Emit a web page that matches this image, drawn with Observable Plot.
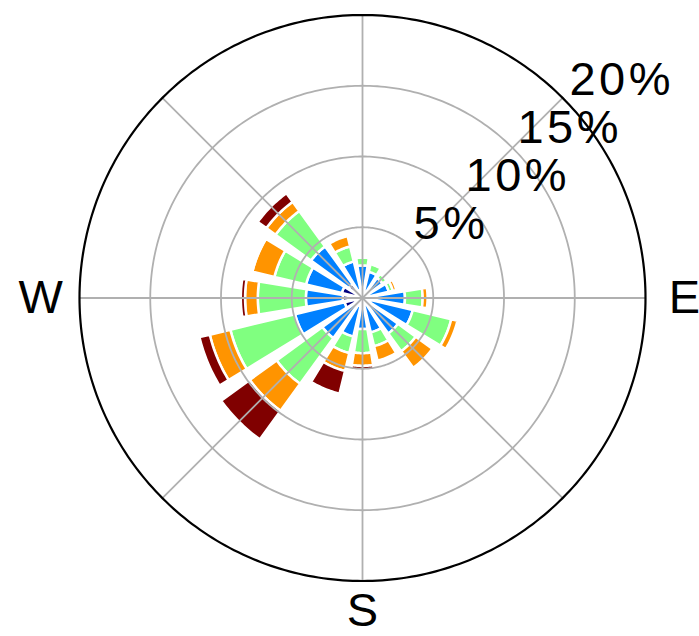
<!DOCTYPE html>
<html><head><meta charset="utf-8">
<script src="https://cdn.jsdelivr.net/npm/d3@7"></script>
<script src="https://cdn.jsdelivr.net/npm/@observablehq/plot@0.6"></script>
<style>html,body{margin:0;padding:0;background:#fff}</style>
</head><body><div id="chart"></div>
<script>
// 16 compass sectors, clockwise from north
const directions = ["N","NNE","NE","ENE","E","ESE","SE","SSE","S","SSW","SW","WSW","W","WNW","NW","NNW"];
const directionAngles = [0,22.5,45,67.5,90,112.5,135,157.5,180,202.5,225,247.5,270,292.5,315,337.5];
// speed bins (lowest to highest) and their colours
const bins = ["bin1","bin2","bin3","bin4","bin5"];
const binColors = ["#000080","#0080ff","#80ff80","#ff9400","#800000"];
// frequency (%) of each bin per direction
const bin1 = [0.5,0.3,0.3,0.3,0.5,0.6,0.5,0.5,0.5,0.6,0.7,1.3,1.4,1.5,1.2,0.6];
const bin2 = [1.8,1.6,1.45,1.6,2.5,3.05,2.6,2.0,1.7,2.2,2.8,3.6,2.6,2.6,3.3,2.05];
const bin3 = [0.55,0.55,0.35,0.3,1.25,2.8,1.55,1.0,1.7,1.2,4.0,4.7,3.4,2.3,3.1,1.1];
const bin4 = [0,0,0,0.25,0.35,0.45,1.45,1.05,0.9,1.3,2.35,1.5,0.9,1.6,0.8,0.75];
const bin5 = [0,0,0,0,0,0,0,0,0.3,1.65,2.5,0.75,0.3,0.15,0.75,0];
// radial grid
const ringValues = [5,10,15];
const outerValue = 20;
const ringLabels = ["5%","10%","15%","20%"];
const ringLabelValues = [5,10,15,20];
const spokeAngles = [0,45,90,135,180,225,270,315];
const sideLabels = ["E","W"];
const sideAngles = [90,270];
const bottomLabels = ["S"];
const bottomAngles = [180];

const rad = Math.PI / 180;
const px = (r, a) => r * Math.sin(a * rad);
const py = (r, a) => r * Math.cos(a * rad);
const opening = 0.8 * 22.5; // bar angular width
const series = [bin1, bin2, bin3, bin4, bin5];

// build wedge polygons from the data
const wedges = [];
directions.forEach((dir, i) => {
  const a = directionAngles[i];
  let base = 0;
  series.forEach((s, j) => {
    const v = s[i];
    if (v <= 0) return;
    const r0 = base, r1 = base + v;
    base = r1;
    const id = dir + "-" + j;
    const n = 16;
    for (let k = 0; k <= n; k++) {
      const t = a - opening / 2 + opening * k / n;
      wedges.push({id, bin: bins[j], x: px(r0, t), y: py(r0, t)});
    }
    for (let k = n; k >= 0; k--) {
      const t = a - opening / 2 + opening * k / n;
      wedges.push({id, bin: bins[j], x: px(r1, t), y: py(r1, t)});
    }
  });
});

function circle(v) {
  const pts = [];
  for (let k = 0; k < 360; k += 1) pts.push({v, x: px(v, k), y: py(v, k)});
  return pts;
}
const rings = ringValues.flatMap(circle);
const outer = circle(outerValue);
const spokes = spokeAngles.map(a => ({x1: 0, y1: 0, x2: px(outerValue, a), y2: py(outerValue, a)}));
const labelAngle = 47.3;
const rlabels = ringLabels.map((t, i) => ({t, x: px(ringLabelValues[i], labelAngle), y: py(ringLabelValues[i], labelAngle)}));
const slabels = sideLabels.map((t, i) => ({t, x: px(22.75, sideAngles[i]), y: py(22.75, sideAngles[i])}));
const blabels = bottomLabels.map((t, i) => ({t, x: px(22.15, bottomAngles[i]), y: py(22.15, bottomAngles[i])}));

const W = 699, H = 636, cx = 362, cy = 297.5, k = 283 / 20;
const font = "'Liberation Sans', Arial, Helvetica, sans-serif";

const chart = Plot.plot({
  width: W, height: H, margin: 0,
  style: {fontFamily: font, background: "#fff"},
  x: {domain: [-cx / k, (W - cx) / k], axis: null},
  y: {domain: [-(H - cy) / k, cy / k], axis: null},
  color: {domain: bins, range: binColors},
  marks: [
    Plot.line(wedges, {x: "x", y: "y", z: "id", fill: "bin", stroke: "white", strokeWidth: 2.5, curve: "linear-closed"}),
    Plot.line(rings, {x: "x", y: "y", z: "v", stroke: "#b0b0b0", strokeWidth: 1.8, curve: "linear-closed"}),
    Plot.link(spokes, {x1: "x1", y1: "y1", x2: "x2", y2: "y2", stroke: "#b0b0b0", strokeWidth: 1.8}),
    Plot.line(outer, {x: "x", y: "y", stroke: "black", strokeWidth: 2.2, curve: "linear-closed"}),
    Plot.text(rlabels, {x: "x", y: "y", text: "t", textAnchor: "start", lineAnchor: "bottom", dx: -1, dy: -11.5, fontSize: 47, fill: "black"}),
    Plot.text(slabels, {x: "x", y: "y", text: "t", textAnchor: "middle", lineAnchor: "middle", fontSize: 47, fill: "black"}),
    Plot.text(blabels, {x: "x", y: "y", text: "t", textAnchor: "middle", lineAnchor: "middle", fontSize: 47, fill: "black"})
  ]
});
// matplotlib-like wider tracking on the radial labels
d3.select(chart).selectAll("g[aria-label='text']").filter((d, i) => i === 0).style("letter-spacing", "3.5px");
document.getElementById("chart").append(chart);
</script>
</body></html>
